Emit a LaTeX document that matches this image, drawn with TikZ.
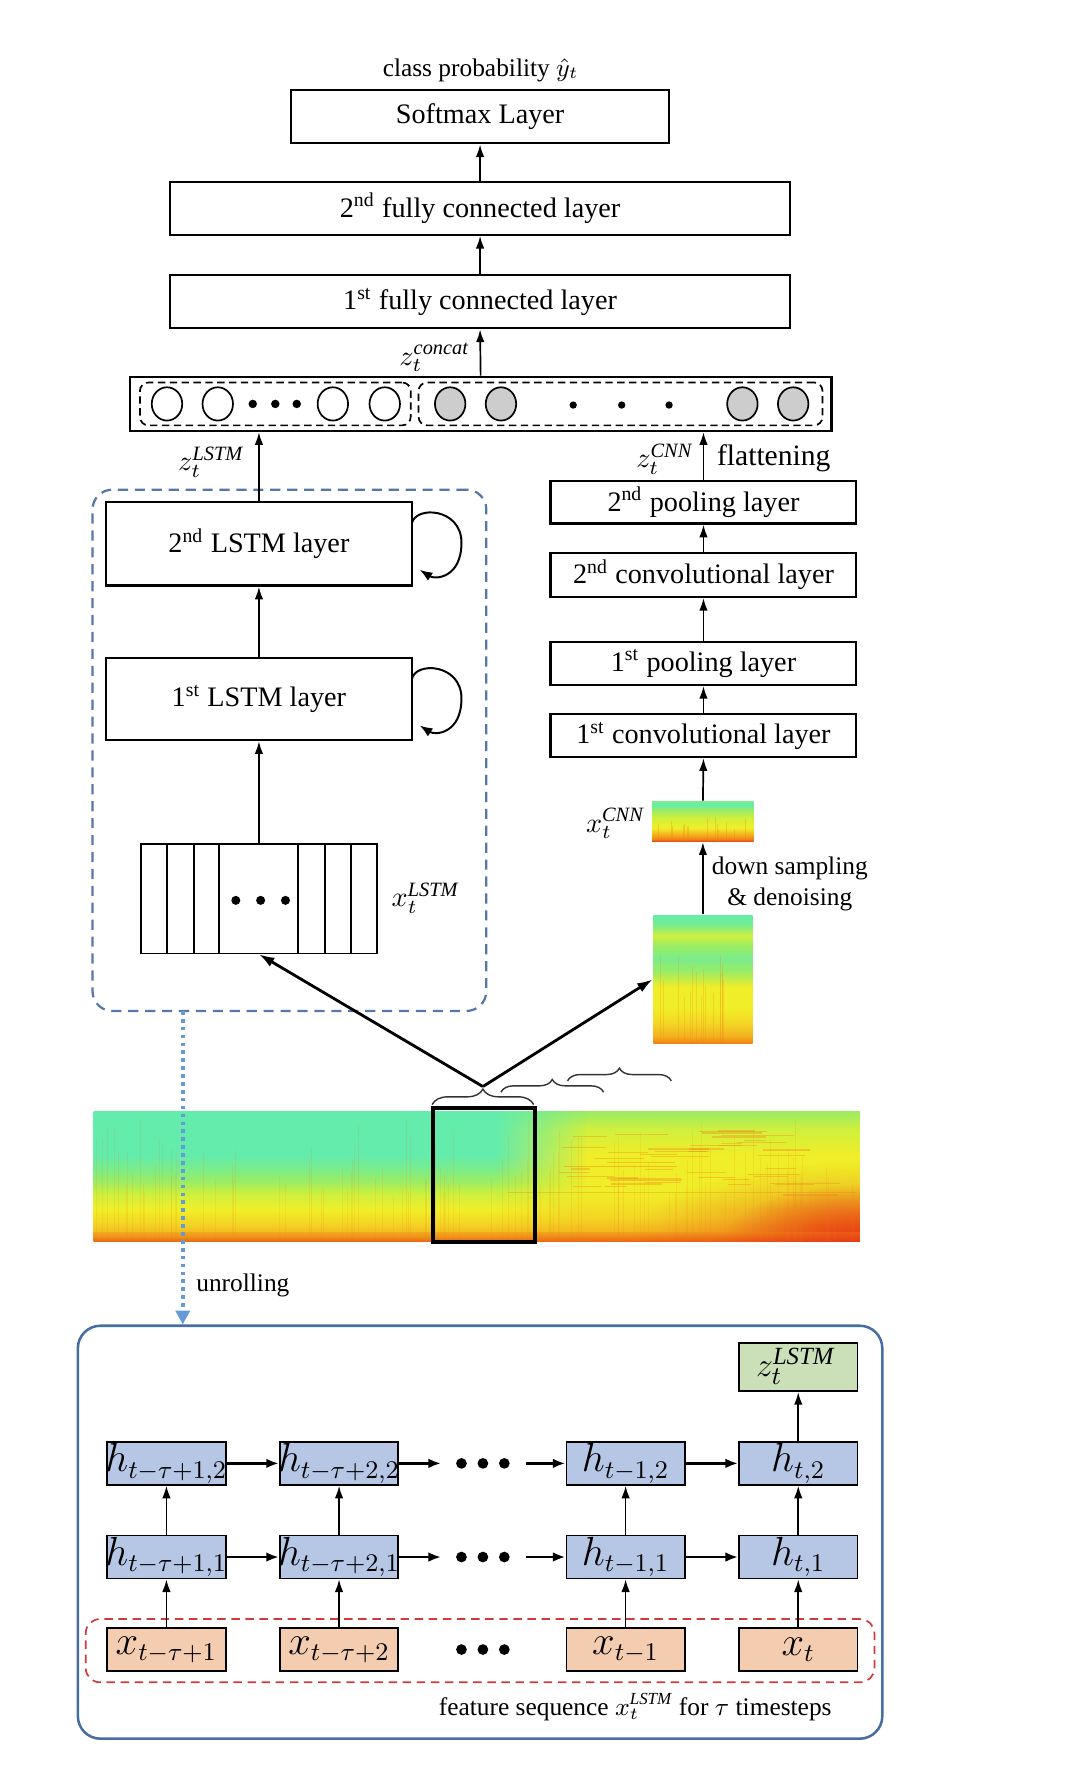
\documentclass[tikz,border=0pt]{standalone}
\usepackage{fontspec}
\setmainfont{Liberation Serif}
\usetikzlibrary{arrows.meta,decorations.pathreplacing,fit,shapes.geometric,fadings}

\definecolor{dashblue}{RGB}{84,120,170}
\definecolor{dotblue}{RGB}{100,155,215}
\definecolor{frameblue}{RGB}{70,110,160}
\definecolor{hblue}{RGB}{182,199,230}
\definecolor{xpeach}{RGB}{244,204,176}
\definecolor{zgreen}{RGB}{203,224,184}
\definecolor{redd}{RGB}{205,60,60}
\definecolor{ellgray}{RGB}{205,205,205}
\definecolor{sAqua}{RGB}{100,236,172}
\definecolor{sAG}{RGB}{122,236,140}
\definecolor{sGreen}{RGB}{155,236,100}
\definecolor{sYG}{RGB}{208,240,60}
\definecolor{sYel}{RGB}{240,238,40}
\definecolor{sYO}{RGB}{243,214,36}
\definecolor{sOr}{RGB}{243,178,30}
\definecolor{sDOr}{RGB}{240,128,22}
\definecolor{sRed}{RGB}{232,62,20}

\pgfdeclareverticalshading{specleft}{100bp}{color(0bp)=(sDOr); color(25bp)=(sDOr); color(27bp)=(sOr); color(32bp)=(sYO); color(37bp)=(sYel); color(43bp)=(sYG); color(48bp)=(sGreen); color(53bp)=(sAG); color(58bp)=(sAqua); color(75bp)=(sAqua); color(100bp)=(sAqua)}
\pgfdeclareverticalshading{specright}{100bp}{color(0bp)=(sDOr); color(25bp)=(sDOr); color(28bp)=(sOr); color(34bp)=(sYO); color(44bp)=(sYel); color(58bp)=(sYel); color(68bp)=(sYG); color(75bp)=(sGreen); color(100bp)=(sGreen)}
\pgfdeclareverticalshading{specbig}{100bp}{color(0bp)=(sDOr); color(25bp)=(sDOr); color(28bp)=(sOr); color(33bp)=(sYO); color(39bp)=(sYel); color(47bp)=(sYel); color(53bp)=(sGreen); color(58bp)=(sAG); color(63bp)=(sGreen); color(67bp)=(sYG); color(71bp)=(sAG); color(75bp)=(sAqua); color(100bp)=(sAqua)}
\pgfdeclareverticalshading{specsmall}{100bp}{color(0bp)=(sRed); color(25bp)=(sRed); color(28bp)=(sDOr); color(34bp)=(sOr); color(42bp)=(sYel); color(54bp)=(sYG); color(64bp)=(sGreen); color(70bp)=(sAqua); color(75bp)=(sAG); color(100bp)=(sAG)}
\tikzfading[name=fromleft, left color=transparent!100, right color=transparent!0]
\tikzfading[name=cornerglow, inner color=transparent!0, outer color=transparent!100]

\begin{document}
\begin{tikzpicture}[x=0.4pt,y=-0.4pt,
  box/.style={draw, line width=0.8pt, inner sep=0pt},
  lbl/.style={font=\fontsize{10}{12}\selectfont, inner sep=0pt},
  small/.style={font=\fontsize{9}{11}\selectfont, inner sep=1pt},
  mlbl/.style={font=\fontsize{10.3}{12}\selectfont, inner sep=1pt},
  arr/.style={-{Latex[length=4.5pt,width=3pt]}, line width=0.6pt},
  bigarr/.style={-{Latex[length=5.5pt,width=3.6pt]}, line width=1pt},
  harr/.style={-{Latex[length=4.5pt,width=3.4pt]}, line width=1pt},
  ell/.style={ellipse, draw, line width=0.6pt, minimum width=10.8pt, minimum height=11.8pt, inner sep=0pt},
  innerdash/.style={draw, line width=0.6pt, dash pattern=on 2.6pt off 1.6pt, rounded corners=3pt, inner sep=0pt},
  hbox/.style={draw, line width=0.6pt, fill=hblue, inner sep=0pt},
  xbox/.style={draw, line width=0.6pt, fill=xpeach, inner sep=0pt},
  big/.style={font=\fontsize{13.5}{15}\selectfont, inner sep=0pt},
  brc/.style={decorate, line width=0.5pt, draw=black!80},
  streak/.style={draw=sDOr, line width=0.35pt}
]
\useasboundingbox (0,0) rectangle (947,1567);

% ---------- top stack ----------
\node[small] (tcp) at (426,62) {class probability $\hat{y}_t$};
\node[box, fit={(258,80) (593,127)}] (soft) {};
\node[lbl] (tsoft) at (soft) {Softmax Layer};
\node[box, fit={(151,161) (700,208)}] (fc2) {};
\node[lbl] (tfc2) at (fc2) {2\textsuperscript{nd} fully connected layer};
\node[box, fit={(151,244) (700,291)}] (fc1) {};
\node[lbl] (tfc1) at (fc1) {1\textsuperscript{st} fully connected layer};
\draw[arr] (fc2.north) -- (soft.south);
\draw[arr] (fc1.north) -- (fc2.south);

% ---------- concat layer ----------
\node[box, fit={(115,334) (737,382)}] (concat) {};
\node[innerdash, fit={(124,339) (364,377)}] (cl) {};
\node[innerdash, fit={(371,339) (729,377)}] (cr) {};
\foreach \n/\xx in {a/148,b/193,c/295,d/341}{\node[ell] (w\n) at (\xx,358) {};}
\foreach \n/\xx in {a/399,b/444,c/658,d/703}{\node[ell, fill=ellgray] (g\n) at (\xx,358) {};}
\foreach \xx in {224,244,263}{\fill (\xx,358) circle (1.5pt);}
\foreach \xx in {508,551,593}{\fill (\xx,359) circle (1.3pt);}
\draw[arr] (concat.north) -- (fc1.south);
\node[mlbl, anchor=east] (tzc) at (419,317) {$z_t^{\mathit{concat}}$};

% ---------- LSTM branch ----------
\node[draw=dashblue, line width=0.8pt, dash pattern=on 3.6pt off 2.4pt, rounded corners=7pt, inner sep=0pt, fit={(82,434) (431,896)}] (lstmframe) {};
\node[box, fit={(94,445) (365,519)}] (lstm2) {};
\node[lbl] (tl2) at (lstm2) {2\textsuperscript{nd} LSTM layer};
\node[box, fit={(94,583) (365,656)}] (lstm1) {};
\node[lbl] (tl1) at (lstm1) {1\textsuperscript{st} LSTM layer};
\coordinate (la2) at (365,464);
\coordinate (lb2) at (372,505);
\coordinate (la1) at (365,602);
\coordinate (lb1) at (372,643);
\draw[-{Latex[length=4.5pt,width=3.4pt]}, line width=0.7pt] (la2) .. controls (368,448) and (409,450) .. (409,481) .. controls (409,512) and (386,514) .. (lb2);
\draw[-{Latex[length=4.5pt,width=3.4pt]}, line width=0.7pt] (la1) .. controls (368,586) and (409,588) .. (409,619) .. controls (409,650) and (386,652) .. (lb1);
\draw[arr] (lstm1.north) -- (lstm2.south);
\draw[arr] (lstm2.north) -- (lstm2.north |- concat.south);
\node[mlbl, anchor=east] (tzl) at (219,410) {$z_t^{\mathit{LSTM}}$};

\node[draw, line width=0.6pt, inner sep=0pt, fit={(125,748) (334,845)}] (mat) {};
\foreach \xx in {148,172,194,264,288,311}{\draw[line width=0.5pt] (\xx,748) -- (\xx,845);}
\foreach \xx in {209,231,253}{\fill (\xx,798) circle (1.6pt);}
\draw[arr] (mat.north) -- (lstm1.south);
\node[mlbl] (txl) at (377,796) {$x_t^{\mathit{LSTM}}$};

% ---------- CNN branch ----------
\node[box, fit={(488,426) (759,464)}] (pool2) {};
\node[lbl] (tp2) at (pool2) {2\textsuperscript{nd} pooling layer};
\node[box, fit={(488,490) (759,529)}] (conv2) {};
\node[lbl] (tc2) at (conv2) {2\textsuperscript{nd} convolutional layer};
\node[box, fit={(488,569) (759,607)}] (pool1) {};
\node[lbl] (tp1) at (pool1) {1\textsuperscript{st} pooling layer};
\node[box, fit={(488,633) (759,671)}] (conv1) {};
\node[lbl] (tc1) at (conv1) {1\textsuperscript{st} convolutional layer};
\draw[arr] (pool2.north) -- (pool2.north |- concat.south);
\draw[arr] (conv2.north) -- (pool2.south);
\draw[arr] (pool1.north) -- (conv2.south);
\draw[arr] (conv1.north) -- (pool1.south);
\node[mlbl, anchor=east] (tzn) at (617,407) {$z_t^{\mathit{CNN}}$};
\node[font=\fontsize{10.5}{12}\selectfont, inner sep=0pt, anchor=west] (tfl) at (635,406) {flattening};

% small CNN spectrogram
\shade[shading=specsmall] (578,710) rectangle (668,746);
\pgfmathsetseed{11}
\foreach \i in {1,...,14}{\pgfmathsetmacro{\xx}{580+86*rnd}\pgfmathsetmacro{\yy}{722+14*rnd}\draw[streak, opacity=0.3] (\xx,\yy) -- (\xx,746);}
\node[inner sep=0pt, fit={(578,710) (668,746)}] (specS) {};
\node[mlbl, anchor=east] (txc) at (574,730) {$x_t^{\mathit{CNN}}$};
\draw[arr] (specS.north) -- (conv1.south);

% big CNN spectrogram
\shade[shading=specbig] (579,811) rectangle (667,925);
\pgfmathsetseed{5}
\foreach \i in {1,...,16}{\pgfmathsetmacro{\xx}{581+84*rnd}\pgfmathsetmacro{\yy}{845+40*rnd}\draw[streak, opacity=0.22] (\xx,\yy) -- (\xx,925);}
\node[inner sep=0pt, fit={(579,811) (667,925)}] (specB) {};
\draw[arr] (specB.north) -- (specS.south);
\node[small, align=center] (tds) at (700,783) {down sampling\\\& denoising};

% ---------- main spectrogram ----------
\shade[shading=specleft] (83,985) rectangle (762,1100);
\shade[shading=specright] (520,985) rectangle (762,1100);
\shade[shading=specright, path fading=fromleft] (440,985) rectangle (521,1100);
\begin{scope}
  \clip (83,985) rectangle (762,1100);
  \fill[sRed, path fading=cornerglow] (640,1050) rectangle (880,1150);
  \fill[sRed, path fading=cornerglow, opacity=0.6] (560,1030) rectangle (960,1170);
  \shade[top color=sDOr, bottom color=sRed, opacity=0.35] (83,1092) rectangle (762,1100);
\end{scope}
\pgfmathsetseed{3}
\foreach \i in {1,...,110}{\pgfmathsetmacro{\xx}{84+677*rnd}\pgfmathsetmacro{\yy}{990+70*rnd}\draw[streak, opacity=0.14] (\xx,\yy) -- (\xx,1100);}
\pgfmathsetseed{8}
\foreach \i in {1,...,45}{\pgfmathsetmacro{\xx}{495+200*rnd}\pgfmathsetmacro{\yy}{1002+60*rnd}\pgfmathsetmacro{\ll}{15+50*rnd}\draw[draw=sDOr, line width=0.45pt, opacity=0.35] (\xx,\yy) -- ++(\ll,0);}
\draw[draw=sDOr, line width=0.6pt, opacity=0.35] (450,1057) -- (760,1057);
\draw[draw=sDOr, line width=0.6pt, opacity=0.45] (500,1034) -- (600,1034);
\node[draw, line width=1.3pt, inner sep=0pt, fit={(384,982) (474,1101)}] (win) {};

% braces
\draw[brc, decoration={brace, amplitude=5.5pt}] (383,979) -- (473,979);
\draw[brc, decoration={brace, amplitude=4.5pt}] (444,968) -- (535,968);
\draw[brc, decoration={brace, amplitude=4.5pt}] (503,958) -- (595,958);
\coordinate (apex) at (428,963);
\draw[bigarr] (apex) -- (mat.south);
\draw[bigarr] (apex) -- (specB.west);

% ---------- unrolling ----------
\coordinate (ua) at (162,896);
\coordinate (ub) at (162,1174);
\draw[dotblue, line width=1.3pt, dash pattern=on 1.3pt off 1.5pt, -{Triangle[length=5pt,width=5pt]}] (ua) -- (ub);
\node[small, anchor=west] (tun) at (171,1139) {unrolling};

\node[draw=frameblue, line width=0.9pt, rounded corners=8pt, inner sep=0pt, fit={(69,1175) (782,1541)}] (frame) {};
\node[draw=redd, line width=0.6pt, dash pattern=on 3pt off 2pt, rounded corners=5pt, inner sep=0pt, fit={(76,1435) (775,1491)}] (xseq) {};

\node[draw, line width=0.6pt, fill=zgreen, inner sep=0pt, fit={(655,1190) (760,1233)}] (zb) {};
\node[font=\fontsize{12.5}{14}\selectfont, inner sep=0pt] (tzb) at (705,1211) {$z_t^{\mathit{LSTM}}$};

\foreach \c/\xa/\xb in {1/95/200, 2/248/353, 3/502/607, 4/655/760}{
  \node[hbox, fit={(\xa,1278) (\xb,1316)}] (h\c b) {};
  \node[hbox, fit={(\xa,1361) (\xb,1399)}] (h\c a) {};
  \node[xbox, fit={(\xa,1443) (\xb,1481)}] (x\c) {};
  \draw[arr] (x\c.north) -- (h\c a.south);
  \draw[arr] (h\c a.north) -- (h\c b.south);
}
\node[big] (th1b) at (h1b) {$h_{t-\tau+1,2}$};
\node[big] (th2b) at (h2b) {$h_{t-\tau+2,2}$};
\node[big] (th3b) at (h3b) {$h_{t-1,2}$};
\node[big] (th4b) at (h4b) {$h_{t,2}$};
\node[big] (th1a) at (h1a) {$h_{t-\tau+1,1}$};
\node[big] (th2a) at (h2a) {$h_{t-\tau+2,1}$};
\node[big] (th3a) at (h3a) {$h_{t-1,1}$};
\node[big] (th4a) at (h4a) {$h_{t,1}$};
\node[big] (tx1) at (x1) {$x_{t-\tau+1}$};
\node[big] (tx2) at (x2) {$x_{t-\tau+2}$};
\node[big] (tx3) at (x3) {$x_{t-1}$};
\node[big] (tx4) at (x4) {$x_t$};
\draw[arr] (h4b.north) -- (zb.south);

\foreach \r/\yy in {b/1297, a/1380}{
  \coordinate (d\r1) at (391,\yy);
  \coordinate (d\r2) at (466,\yy);
  \draw[harr] (h1\r.east) -- (h2\r.west);
  \draw[harr] (h2\r.east) -- (d\r1);
  \draw[harr] (d\r2) -- (h3\r.west);
  \draw[harr] (h3\r.east) -- (h4\r.west);
  \foreach \xx in {409,428,447}{\fill (\xx,\yy) circle (1.9pt);}
}
\foreach \xx in {409,428,447}{\fill (\xx,1462) circle (1.9pt);}

\node[small] (tfs) at (563,1513) {feature sequence $x_t^{\mathit{LSTM}}$ for $\tau$ timesteps};
\end{tikzpicture}
\end{document}
